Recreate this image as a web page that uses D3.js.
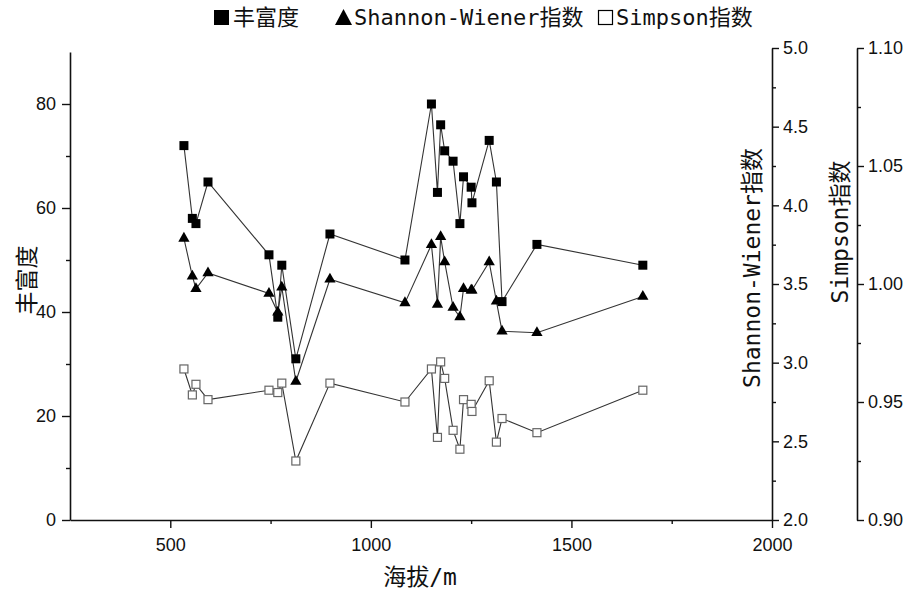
<!DOCTYPE html>
<html>
<head>
<meta charset="utf-8">
<script src="https://cdn.jsdelivr.net/npm/d3@7"></script>
<style>
  html, body { margin: 0; padding: 0; background: #fff; }
  svg { display: block; }
</style>
</head>
<body>
<svg id="chart" width="909" height="589"></svg>
<script>
// ---- data ----
const altitude = [534, 555, 564, 594, 746, 768, 778, 813, 898, 1085, 1151, 1166, 1174, 1184, 1205, 1222, 1231, 1250, 1252, 1295, 1313, 1327, 1414, 1678];
const richness = [72, 58, 57, 65, 51, 39, 49, 31, 55, 50, 80, 63, 76, 71, 69, 57, 66, 64, 61, 73, 65, 42, 53, 49];
const shannon  = [3.79, 3.55, 3.47, 3.57, 3.44, 3.32, 3.48, 2.88, 3.53, 3.38, 3.75, 3.37, 3.80, 3.64, 3.35, 3.29, 3.47, 3.46, 3.46, 3.64, 3.39, 3.20, 3.19, 3.42];
const simpson  = [0.964, 0.953, 0.9575, 0.951, 0.955, 0.954, 0.958, 0.925, 0.958, 0.950, 0.964, 0.935, 0.967, 0.960, 0.938, 0.930, 0.951, 0.949, 0.946, 0.959, 0.933, 0.943, 0.937, 0.955];

const xTicks = [500, 1000, 1500, 2000];
const xMinor = [750, 1250, 1750];
const leftTicks = [0, 20, 40, 60, 80];
const leftMinor = [10, 30, 50, 70];
const shTicks = [2.0, 2.5, 3.0, 3.5, 4.0, 4.5, 5.0];
const shMinor = [2.25, 2.75, 3.25, 3.75, 4.25, 4.75];
const siTicks = [0.90, 0.95, 1.00, 1.05, 1.10];
const siMinor = [0.925, 0.975, 1.025, 1.075];

const legendLabels = ["丰富度", "Shannon-Wiener指数", "Simpson指数"];
const xTitle = "海拔/m";
const leftTitle = "丰富度";
const shTitle = "Shannon-Wiener指数";
const siTitle = "Simpson指数";

// ---- layout ----
const svg = d3.select("#chart");
const numFont = "'Liberation Sans', Arial, sans-serif";
const cjkFont = "'DejaVu Sans Mono', 'Noto Sans CJK SC', monospace";
const ink = "#111";

const x = d3.scaleLinear().domain([250, 2000]).range([70, 772]);
const yL = d3.scaleLinear().domain([0, 90]).range([520, 52]);
const yS = d3.scaleLinear().domain([2, 5]).range([520, 48]);
const yP = d3.scaleLinear().domain([0.9, 1.1]).range([520, 48]);

function styleAxis(g) {
  g.selectAll("path.domain").attr("stroke", ink).attr("stroke-width", 1.6);
  g.selectAll(".tick line").attr("stroke", ink).attr("stroke-width", 1.4);
  g.selectAll(".tick text").attr("font-family", numFont).attr("font-size", 18).attr("fill", ink);
}

// x axis
const gx = svg.append("g").attr("transform", "translate(0,520)")
  .call(d3.axisBottom(x).tickValues(xTicks).tickSize(8).tickPadding(10).tickSizeOuter(0).tickFormat(d3.format("d")));
styleAxis(gx);
svg.append("g").attr("transform", "translate(0,520)")
  .call(d3.axisBottom(x).tickValues(xMinor).tickSize(4).tickFormat("").tickSizeOuter(0))
  .call(g => g.select(".domain").remove()).call(styleAxis);

// left axis
const gl = svg.append("g").attr("transform", "translate(70,0)")
  .call(d3.axisLeft(yL).tickValues(leftTicks).tickSize(8).tickPadding(6).tickSizeOuter(0).tickFormat(d3.format("d")));
styleAxis(gl);
svg.append("g").attr("transform", "translate(70,0)")
  .call(d3.axisLeft(yL).tickValues(leftMinor).tickSize(4).tickFormat("").tickSizeOuter(0))
  .call(g => g.select(".domain").remove()).call(styleAxis);

// Shannon axis
const gs = svg.append("g").attr("transform", "translate(772,0)")
  .call(d3.axisRight(yS).tickValues(shTicks).tickSize(7).tickPadding(4).tickSizeOuter(0).tickFormat(d3.format(".1f")));
styleAxis(gs);
svg.append("g").attr("transform", "translate(772,0)")
  .call(d3.axisRight(yS).tickValues(shMinor).tickSize(4).tickFormat("").tickSizeOuter(0))
  .call(g => g.select(".domain").remove()).call(styleAxis);

// Simpson axis
const gp = svg.append("g").attr("transform", "translate(857,0)")
  .call(d3.axisRight(yP).tickValues(siTicks).tickSize(7).tickPadding(4).tickSizeOuter(0).tickFormat(d3.format(".2f")));
styleAxis(gp);
svg.append("g").attr("transform", "translate(857,0)")
  .call(d3.axisRight(yP).tickValues(siMinor).tickSize(4).tickFormat("").tickSizeOuter(0))
  .call(g => g.select(".domain").remove()).call(styleAxis);

// axis titles
svg.append("text").attr("x", 420).attr("y", 585).attr("text-anchor", "middle")
  .attr("font-family", cjkFont).attr("font-size", 23).attr("fill", ink).text(xTitle);
svg.append("text").attr("transform", "translate(35,280) rotate(-90)").attr("text-anchor", "middle")
  .attr("font-family", cjkFont).attr("font-size", 23).attr("fill", ink).text(leftTitle);
svg.append("text").attr("transform", "translate(760,268) rotate(-90)").attr("text-anchor", "middle")
  .attr("font-family", cjkFont).attr("font-size", 23).attr("fill", ink).text(shTitle);
svg.append("text").attr("transform", "translate(848,232) rotate(-90)").attr("text-anchor", "middle")
  .attr("font-family", cjkFont).attr("font-size", 23).attr("fill", ink).text(siTitle);

// ---- series ----
const idx = d3.range(altitude.length);
const lineStroke = "#333";

function drawLine(vals, yScale) {
  svg.append("path")
    .attr("fill", "none").attr("stroke", lineStroke).attr("stroke-width", 1.1)
    .attr("d", d3.line().x(i => x(altitude[i])).y(i => yScale(vals[i]))(idx));
}
drawLine(shannon, yS);
drawLine(richness, yL);
drawLine(simpson, yP);

const tri = d3.symbol().type(d3.symbolTriangle).size(55);
svg.append("g").selectAll("path").data(idx).join("path")
  .attr("d", tri)
  .attr("transform", i => `translate(${x(altitude[i])},${yS(shannon[i])})`)
  .attr("fill", "#000");

svg.append("g").selectAll("rect").data(idx).join("rect")
  .attr("x", i => x(altitude[i]) - 4.5).attr("y", i => yL(richness[i]) - 4.5)
  .attr("width", 9).attr("height", 9).attr("fill", "#000");

svg.append("g").selectAll("rect").data(idx).join("rect")
  .attr("x", i => x(altitude[i]) - 4).attr("y", i => yP(simpson[i]) - 4)
  .attr("width", 8).attr("height", 8).attr("fill", "#fff")
  .attr("stroke", "#666").attr("stroke-width", 1.2);

// ---- legend ----
const lg = svg.append("g");
lg.append("rect").attr("x", 214).attr("y", 10).attr("width", 15).attr("height", 15).attr("fill", "#000");
lg.append("path").attr("d", "M335,25 L343.5,9 L352,25 Z").attr("fill", "#000");
lg.append("rect").attr("x", 598.5).attr("y", 10.5).attr("width", 14).attr("height", 14)
  .attr("fill", "#fff").attr("stroke", "#000").attr("stroke-width", 1.2);
const legX = [233, 354, 616];
legendLabels.forEach((t, k) => {
  lg.append("text").attr("x", legX[k]).attr("y", 25)
    .attr("font-family", cjkFont).attr("font-size", 22).attr("fill", ink).text(t);
});
</script>
</body>
</html>
